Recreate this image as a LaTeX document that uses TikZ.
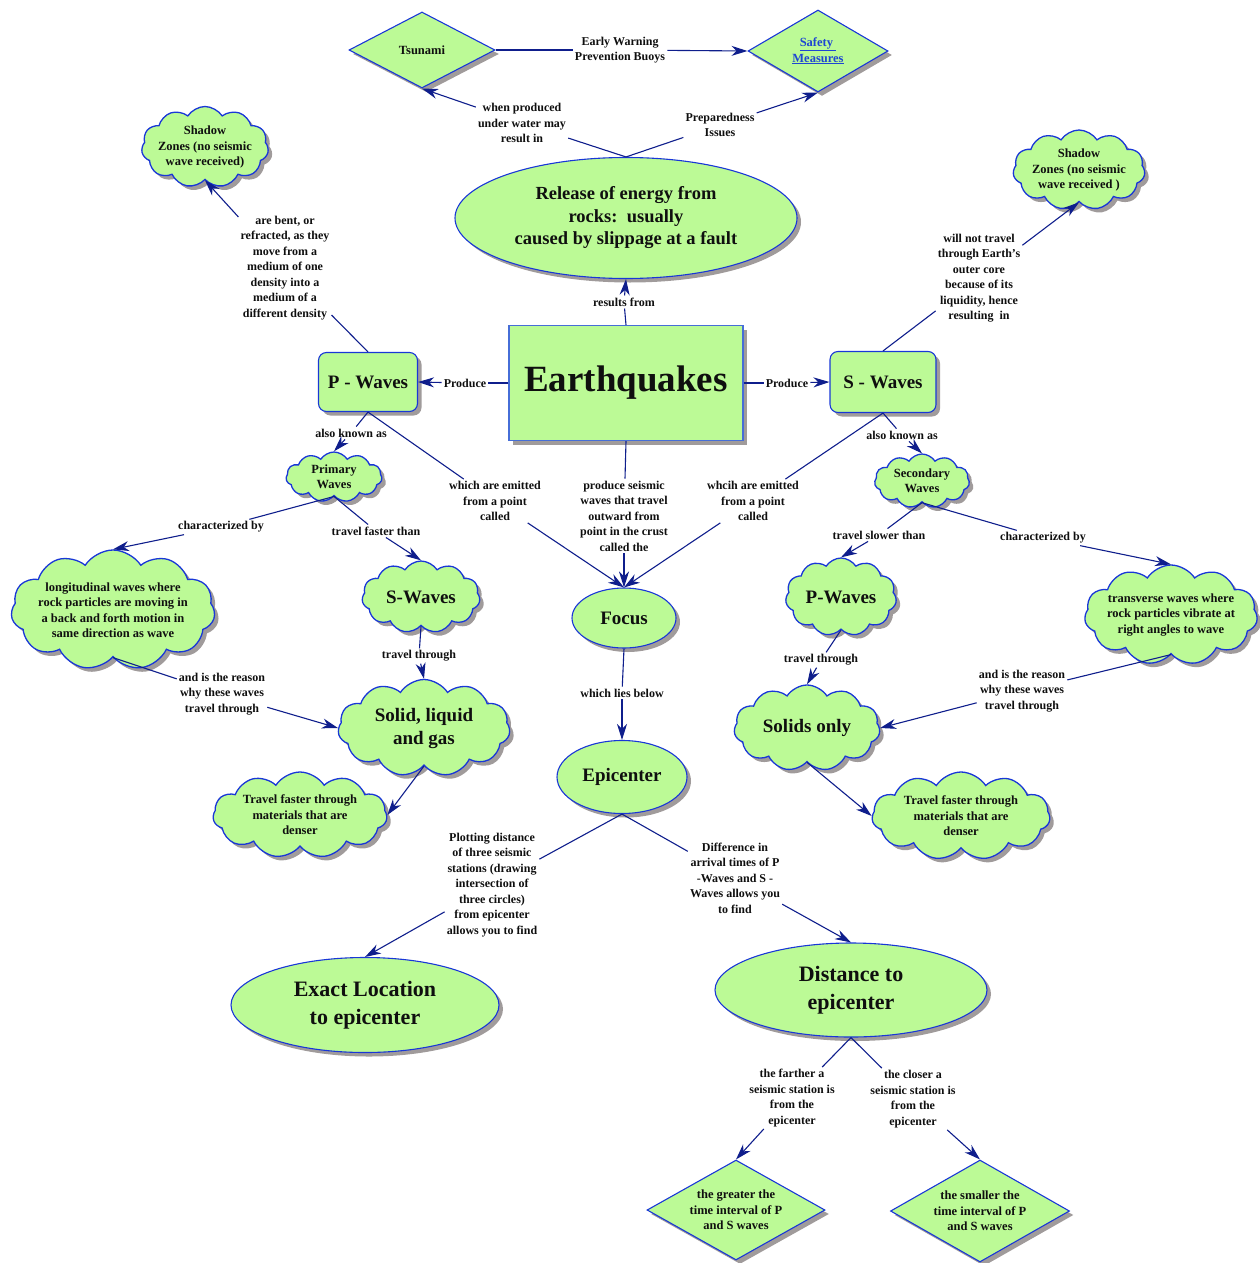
\documentclass[tikz,border=0pt]{standalone}
\usepackage{fontspec}
\setmainfont{Liberation Serif}
\usetikzlibrary{shapes.geometric,shapes.symbols,shadows,arrows.meta}
\definecolor{cfill}{RGB}{188,250,150}
\definecolor{cborder}{RGB}{25,55,215}
\definecolor{cborderL}{RGB}{70,110,215}
\definecolor{cline}{RGB}{15,30,140}
\definecolor{cshadow}{RGB}{160,155,155}
\definecolor{clink}{RGB}{30,70,210}
\definecolor{ctext}{RGB}{15,15,15}
\tikzset{
  base/.style={fill=cfill, draw=cborder, line width=1.1pt, align=center, text=ctext,
     drop shadow={shadow xshift=4pt, shadow yshift=-4pt, fill=cshadow, opacity=1}},
  ell/.style={base, ellipse, inner sep=0pt},
  dia/.style={base, diamond, inner sep=0pt},
  rbox/.style={base, rectangle, rounded corners=8pt, inner sep=0pt},
  cld/.style={base, cloud, cloud puffs=11, cloud puff arc=115, cloud ignores aspect, inner sep=0pt, line width=1.3pt},
  smf/.style={font=\fontsize{12.5}{15.5}\selectfont\bfseries},
  bigf/.style={font=\fontsize{19}{23}\selectfont\bfseries},
  ctx/.style={align=center, text=ctext, inner sep=0pt},
  lab/.style={font=\fontsize{12}{15.5}\selectfont\bfseries, align=center, inner sep=2pt, text=ctext},
  con/.style={draw=cline, line width=1.1pt},
  arr/.style={con, -{Stealth[length=16pt,width=10pt,inset=5pt]}},
}
\begin{document}
\begin{tikzpicture}[x=1pt,y=-1pt]
\useasboundingbox (0,0) rectangle (1259,1263);

% ---------- main nodes ----------
\node[dia, minimum width=146pt, minimum height=76pt, label={[ctx,smf]center:Tsunami}] (tsu) at (422,50) {};
\node[dia, minimum width=140pt, minimum height=82pt, label={[ctx,smf,text=clink]center:{\underline{Safety\ }\\\underline{Measures}}}] (safe) at (818,51) {};
\node[ell, font=\fontsize{18.5}{22.5}\selectfont\bfseries, minimum width=342pt, minimum height=121pt] (rel) at (626,218) {Release of energy from\\rocks:\ \ usually\\caused by slippage at a fault};
\node[base, rectangle, draw=cborderL, minimum width=234pt, minimum height=115pt, font=\fontsize{37}{40}\selectfont\bfseries] (eq) at (626,383) {Earthquakes};
\node[rbox, bigf, minimum width=99pt, minimum height=59pt] (pw) at (368,382) {P - Waves};
\node[rbox, bigf, minimum width=106pt, minimum height=61pt] (sw) at (883,382) {S - Waves};

% clouds
\node[cld, minimum width=127pt, minimum height=81pt, label={[ctx,smf]center:{Shadow\\Zones (no seismic\\wave received)}}] (shL) at (205,147) {};
\node[cld, minimum width=132pt, minimum height=80pt, label={[ctx,smf]center:{Shadow\\Zones (no seismic\\wave received )}}] (shR) at (1079,170) {};
\node[cld, minimum width=96pt, minimum height=50pt, label={[ctx,smf]center:{Primary\\Waves}}] (prim) at (334,477) {};
\node[cld, minimum width=95pt, minimum height=54pt, label={[ctx,smf]center:{Secondary\\Waves}}] (sec) at (922,481) {};
\node[cld, minimum width=204pt, minimum height=120pt, label={[ctx,smf]center:{longitudinal waves where\\rock particles are moving in\\a back and forth motion in\\same direction as wave}}] (lon) at (113,610) {};
\node[cld, minimum width=118pt, minimum height=72pt, label={[ctx,bigf]center:S-Waves}] (swc) at (421,597) {};
\node[cld, minimum width=172pt, minimum height=97pt, label={[ctx,bigf]center:{Solid, liquid\\and gas}}] (slg) at (424,728) {};
\node[cld, minimum width=174pt, minimum height=86pt, label={[ctx,smf]center:{Travel faster through\\materials that are\\denser}}] (tfL) at (300,815) {};
\node[cld, minimum width=111pt, minimum height=78pt, label={[ctx,bigf]center:P-Waves}] (pwc) at (841,597) {};
\node[cld, minimum width=173pt, minimum height=100pt, label={[ctx,smf]center:{transverse waves where\\rock particles vibrate at\\right angles to wave}}] (trans) at (1171,615) {};
\node[cld, minimum width=146pt, minimum height=86pt, label={[ctx,bigf]center:Solids only}] (so) at (807,728) {};
\node[cld, minimum width=178pt, minimum height=88pt, label={[ctx,smf]center:{Travel faster through\\materials that are\\denser}}] (tfR) at (961,816) {};

% ellipses lower
\node[ell, bigf, minimum width=104pt, minimum height=60pt] (focus) at (624,618) {Focus};
\node[ell, bigf, minimum width=130pt, minimum height=73pt] (epi) at (622,777) {Epicenter};
\node[ell, font=\fontsize{22}{28}\selectfont\bfseries, minimum width=268pt, minimum height=95pt] (exact) at (365,1005) {Exact Location\\to epicenter};
\node[ell, font=\fontsize{22}{28}\selectfont\bfseries, minimum width=272pt, minimum height=94pt] (dist) at (851,990) {Distance to\\epicenter};

\node[dia, minimum width=178pt, minimum height=100pt, label={[ctx,smf]center:{the greater the\\time interval of P\\and S waves}}] (greater) at (736,1210) {};
\node[dia, minimum width=179pt, minimum height=102pt, label={[ctx,smf]center:{the smaller the\\time interval of P\\and S waves}}] (smaller) at (980,1211) {};

% ---------- linking phrases ----------
\node[lab] (l1) at (620,50) {Early Warning\\Prevention Buoys};
\node[lab] (l2) at (522,123) {when produced\\under water may\\result in};
\node[lab] (l3) at (720,125) {Preparedness\\Issues};
\node[lab] (l4) at (624,302) {results from};
\node[lab] (l5) at (465,383) {Produce};
\node[lab] (l6) at (787,383) {Produce};
\node[lab] (l7) at (285,268) {are bent, or\\refracted, as they\\move from a\\medium of one\\density into a\\medium of a\\different density};
\node[lab] (l8) at (979,278) {will not travel\\through Earth's\\outer core\\because of its\\liquidity, hence\\resulting\ \ in};
\node[lab] (l9) at (351,433) {also known as};
\node[lab] (l10) at (902,435) {also known as};
\node[lab] (l11) at (495,501) {which are emitted\\from a point\\called};
\node[lab] (l12) at (624,516) {produce seismic\\waves that travel\\outward from\\point in the crust\\called the};
\node[lab] (l13) at (753,501) {whcih are emitted\\from a point\\called};
\node[lab] (l14) at (221,527) {characterized by};
\node[lab] (l15) at (376,531) {travel faster than};
\node[lab] (l16) at (879,535) {travel slower than};
\node[lab] (l17) at (1043,538) {characterized by};
\node[lab] (l18) at (419,656) {travel through};
\node[lab] (l19) at (821,660) {travel through};
\node[lab] (l20) at (222,694) {and is the reason\\why these waves\\travel through};
\node[lab] (l21) at (1022,691) {and is the reason\\why these waves\\travel through};
\node[lab] (l22) at (622,693) {which lies below};
\node[lab] (l23) at (492,885) {Plotting distance\\of three seismic\\stations (drawing\\intersection of\\three circles)\\from epicenter\\allows you to find};
\node[lab] (l24) at (735,878) {Difference in\\arrival times of P\\-Waves and S -\\Waves allows you\\to find};
\node[lab] (l25) at (792,1098) {the farther a\\seismic station is\\from the\\epicenter};
\node[lab] (l26) at (913,1099) {the closer a\\seismic station is\\from the\\epicenter};

% ---------- connectors ----------
\draw[con] (tsu.east) -- (l1);  \draw[arr] (l1) -- (safe.west);
\draw[con] (rel.north) -- (l2); \draw[arr] (l2) -- (tsu.south);
\draw[con] (rel.north) -- (l3); \draw[arr] (l3) -- (safe.south);
\draw[con] (eq.north) -- (l4);  \draw[arr] (l4) -- (rel.south);
\draw[con] (eq.west) -- (l5);   \draw[arr] (l5) -- (pw.east);
\draw[con] (eq.east) -- (l6);   \draw[arr] (l6) -- (sw.west);
\draw[con] (pw.north) -- (l7);  \draw[arr] (l7) -- (shL.south);
\draw[con] (sw.north) -- (l8);  \draw[arr] (l8) -- (shR.south);
\draw[con] (pw.south) -- (l9);  \draw[arr] (l9) -- (prim.north);
\draw[con] (sw.south) -- (l10); \draw[arr] (l10) -- (sec.north);
\draw[con] (pw.south) -- (l11); \draw[arr] (l11) -- (focus.north);
\draw[con] (eq.south) -- (l12); \draw[arr] (l12) -- (focus.north);
\draw[con] (sw.south) -- (l13); \draw[arr] (l13) -- (focus.north);
\draw[con] (prim.south) -- (l14); \draw[arr] (l14) -- (lon.north);
\draw[con] (prim.south) -- (l15); \draw[arr] (l15) -- (swc.north);
\draw[con] (sec.south) -- (l16); \draw[arr] (l16) -- (pwc.north);
\draw[con] (sec.south) -- (l17); \draw[arr] (l17) -- (trans.north);
\draw[con] (swc.south) -- (l18); \draw[arr] (l18) -- (slg.north);
\draw[con] (pwc.south) -- (l19); \draw[arr] (l19) -- (so.north);
\draw[con] (lon.south) -- (l20); \draw[arr] (l20) -- (slg.west);
\draw[con] (trans.south) -- (l21); \draw[arr] (l21) -- (so.east);
\draw[arr] (slg.south) -- (tfL.east);
\draw[arr] (so.south) -- (tfR.west);
\draw[con] (focus.south) -- (l22); \draw[arr] (l22) -- (epi.north);
\draw[con] (epi.south) -- (l23); \draw[arr] (l23) -- (exact.north);
\draw[con] (epi.south) -- (l24); \draw[arr] (l24) -- (dist.north);
\draw[con] (dist.south) -- (l25); \draw[arr] (l25) -- (greater.north);
\draw[con] (dist.south) -- (l26); \draw[arr] (l26) -- (smaller.north);
\end{tikzpicture}
\end{document}
